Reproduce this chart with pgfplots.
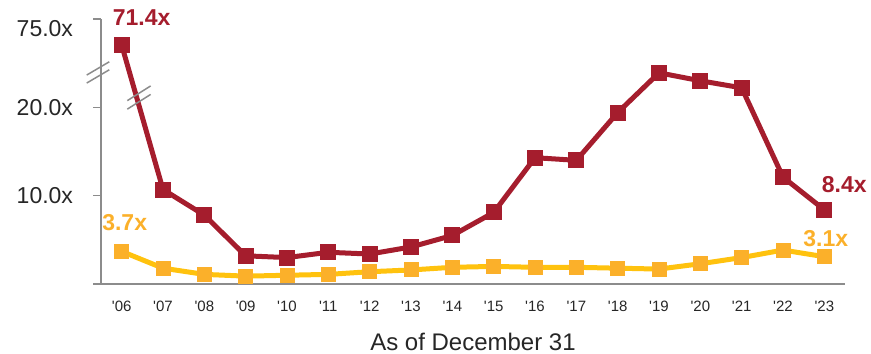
\documentclass[border=0pt]{standalone}
\usepackage{pgfplots}
\pgfplotsset{compat=1.18}
\usepackage{fontspec}
\setmainfont{Liberation Sans}
\usetikzlibrary{calc}
\definecolor{dred}{HTML}{A51D2D}
\definecolor{yline}{HTML}{FFC20E}
\definecolor{ymark}{HTML}{FBB02A}
\definecolor{axgray}{HTML}{8C8C8C}
\newcommand{\q}{\textquotesingle}
\begin{document}
\begin{tikzpicture}
\begin{axis}[
  at={(101bp,69.9bp)}, anchor=south west,
  scale only axis, width=744bp, height=265.2bp,
  xmin=-0.5, xmax=17.5, ymin=0, ymax=30,
  axis x line*=bottom, axis y line*=left,
  axis line style={axgray, line width=1.5bp},
  xtick={0,...,17},
  xticklabels={\q06,\q07,\q08,\q09,\q10,\q11,\q12,\q13,\q14,\q15,\q16,\q17,\q18,\q19,\q20,\q21,\q22,\q23},
  xtick style={draw=none},
  ytick={0,10,20,30},
  yticklabels={,10.0x,20.0x,\raisebox{-10bp}[\height][\depth]{75.0x}},
  ytick style={axgray, line width=1.5bp},
  tick align=outside, major tick length=7.5bp,
  yticklabel style={font=\fontsize{23bp}{23bp}\selectfont, text=black!85, xshift=-17bp},
  xticklabel style={font=\fontsize{15bp}{15bp}\selectfont, text=black!85, yshift=-6bp},
  xlabel={As of December 31},
  xlabel style={font=\fontsize{24bp}{24bp}\selectfont, text=black!85, at={(axis description cs:0.5,0)}, anchor=base, yshift=-66.5bp},
  clip=false,
]
\addplot[dred, line width=5bp, mark=square*, mark size=7.5bp, mark options={fill=dred, draw=dred, line width=0pt}]
coordinates {(0,27.05) (1,10.7) (2,7.8) (3,3.2) (4,3.0) (5,3.6) (6,3.4) (7,4.2) (8,5.5) (9,8.1) (10,14.3) (11,14.0) (12,19.4) (13,23.9) (14,23.0) (15,22.2) (16,12.1) (17,8.4)};
\addplot[yline, line width=5bp, mark=square*, mark size=7bp, mark options={fill=ymark, draw=ymark, line width=0pt}]
coordinates {(0,3.7) (1,1.8) (2,1.1) (3,0.9) (4,1.0) (5,1.1) (6,1.4) (7,1.6) (8,1.9) (9,2.0) (10,1.9) (11,1.9) (12,1.8) (13,1.7) (14,2.3) (15,3.0) (16,3.85) (17,3.1)};
% axis break marks
\draw[axgray, line width=1.5bp] ($(axis cs:-0.5,23.94)+(-14.3bp,-2.6bp)$) -- ++(22.6bp,13.3bp);
\draw[axgray, line width=1.5bp] ($(axis cs:-0.5,23.94)+(-14.3bp,-10.6bp)$) -- ++(22.6bp,13.3bp);
\draw[axgray, line width=1.5bp] ($(axis cs:0.418,20.71)+(-11.6bp,0.4bp)$) -- ++(23.3bp,14.7bp);
\draw[axgray, line width=1.5bp] ($(axis cs:0.418,20.71)+(-11.6bp,-8.1bp)$) -- ++(23.3bp,14.7bp);
% value labels
\node[font=\bfseries\fontsize{23bp}{23bp}\selectfont, text=dred] at ($(axis cs:0,27.05)+(20bp,27bp)$) {71.4x};
\node[font=\bfseries\fontsize{23bp}{23bp}\selectfont, text=ymark] at ($(axis cs:0,3.7)+(3bp,29bp)$) {3.7x};
\node[font=\bfseries\fontsize{23bp}{23bp}\selectfont, text=dred] at ($(axis cs:17,8.4)+(20bp,25bp)$) {8.4x};
\node[font=\bfseries\fontsize{23bp}{23bp}\selectfont, text=ymark] at ($(axis cs:17,3.1)+(1.5bp,18bp)$) {3.1x};
\end{axis}
\pgfresetboundingbox
\path[use as bounding box] (0,0) rectangle (871bp,354bp);
\end{tikzpicture}
\end{document}
